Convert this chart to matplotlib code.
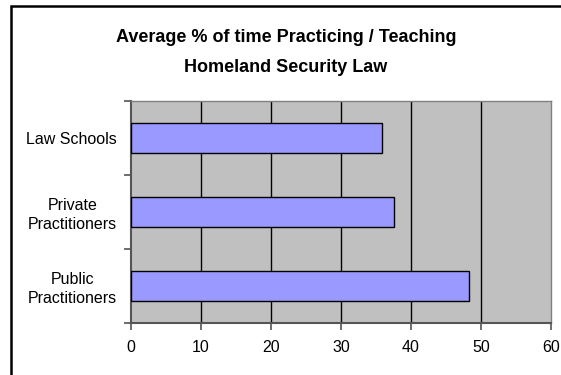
import numpy as np
import matplotlib.pyplot as plt
from matplotlib.patches import Rectangle

plt.rcParams['font.family'] = ['Liberation Sans', 'DejaVu Sans']

categories = ['Law Schools', 'Private\nPractitioners', 'Public\nPractitioners']
values = [35.9, 37.6, 48.3]
xticks = [0, 10, 20, 30, 40, 50, 60]

fig = plt.figure(figsize=(5.61, 3.75), dpi=100)

# chart border (runs off the right and bottom of the picture)
fig.patches.append(Rectangle((11 / 561, -0.1), 1.2, 1 - 6 / 375 + 0.1,
                             transform=fig.transFigure, fill=False,
                             edgecolor='black', linewidth=1.8))

ax = fig.add_axes([131 / 561, 1 - 323 / 375, 420 / 561, 222 / 375])
ax.set_facecolor('#C0C0C0')

pos = np.arange(len(categories))[::-1]
ax.barh(pos, values, height=0.4, color='#9999FF', edgecolor='black',
        linewidth=1.0, zorder=3)

ax.set_xlim(0, 60)
ax.set_ylim(-0.5, 2.5)
ax.set_xticks(xticks)
ax.set_xticklabels([str(t) for t in xticks])
for t in xticks[1:-1]:
    ax.axvline(t, color='black', linewidth=1.0, zorder=1)

ax.set_yticks(pos)
ax.set_yticklabels(categories, multialignment='center', linespacing=1.3)
ax.set_yticks([-0.5, 0.5, 1.5, 2.5], minor=True)
ax.tick_params(axis='y', which='major', length=0, pad=10, labelsize=11.5)
ax.tick_params(axis='y', which='minor', length=5, width=1.2, color='#555555',
               direction='out')
ax.tick_params(axis='x', length=5, width=1.2, color='#555555', pad=7,
               labelsize=11.5, direction='out')

for s in ['top', 'right']:
    ax.spines[s].set_color('#808080')
    ax.spines[s].set_linewidth(1.0)
for s in ['left', 'bottom']:
    ax.spines[s].set_color('#555555')
    ax.spines[s].set_linewidth(1.5)

fig.text(0.51, 1 - 37 / 375, 'Average % of time Practicing / Teaching',
         ha='center', va='center', fontsize=13, fontweight='bold')
fig.text(0.51, 1 - 67 / 375, 'Homeland Security Law',
         ha='center', va='center', fontsize=13, fontweight='bold')

fig.savefig('out.png', dpi=100)
